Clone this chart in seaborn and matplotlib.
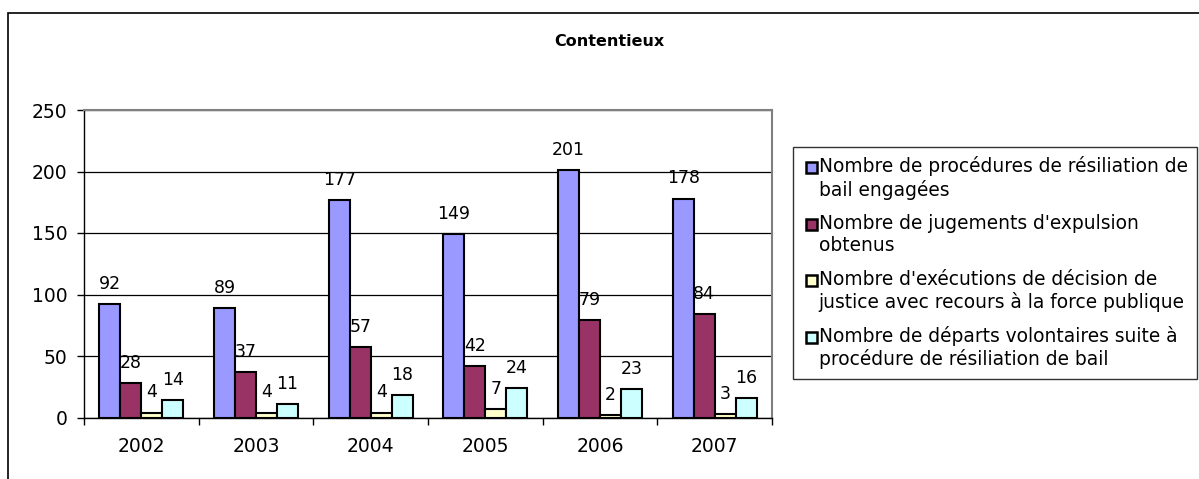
import pandas as pd
import seaborn as sns
import matplotlib.pyplot as plt
from matplotlib.patches import Rectangle, Patch
from matplotlib.legend_handler import HandlerPatch

# values
annees = ['2002', '2003', '2004', '2005', '2006', '2007']
procedures = [92, 89, 177, 149, 201, 178]
jugements = [28, 37, 57, 42, 79, 84]
executions = [4, 4, 4, 7, 2, 3]
departs = [14, 11, 18, 24, 23, 16]
series = ["Nombre de procédures de résiliation de\nbail engagées",
          "Nombre de jugements d'expulsion\nobtenus",
          "Nombre d'exécutions de décision de\njustice avec recours à la force publique",
          "Nombre de départs volontaires suite à\nprocédure de résiliation de bail"]
couleurs = ['#9999FF', '#993366', '#FFFFCC', '#CCFFFF']

rows = []
for s, vals in zip(series, [procedures, jugements, executions, departs]):
    for a, v in zip(annees, vals):
        rows.append({'annee': a, 'valeur': v, 'serie': s})
df = pd.DataFrame(rows)

sns.set_style('white')
plt.rcParams['font.family'] = ['DejaVu Sans']
plt.rcParams['text.color'] = 'black'
plt.rcParams['xtick.color'] = 'black'
plt.rcParams['ytick.color'] = 'black'

W, H = 1199, 479
fig = plt.figure(figsize=(W / 100, H / 100), dpi=100)
ax = fig.add_axes([84 / W, 1 - 417.5 / H, 688 / W, 307.5 / H])

sns.barplot(data=df, x='annee', y='valeur', hue='serie', palette=couleurs,
            saturation=1, width=0.73, edgecolor='black', linewidth=1.5,
            ax=ax, legend=False, errorbar=None, zorder=3)

for c in ax.containers:
    ax.bar_label(c, padding=8, fontsize=12.5, color='black')

ax.set_ylim(0, 250)
ax.set_xlim(-0.5, 5.5)
ax.set_yticks(range(0, 251, 50))
ax.yaxis.grid(True, color='black', lw=0.9, zorder=0)
ax.set_xlabel('')
ax.set_ylabel('')
ax.tick_params(axis='y', length=5, width=1, labelsize=13.5, pad=7, left=True)
ax.tick_params(axis='x', which='major', length=0, labelsize=13.5, pad=14)
ax.set_xticks([i - 0.5 for i in range(7)], minor=True)
ax.tick_params(axis='x', which='minor', length=5, width=1, bottom=True)
for side in ['top', 'right']:
    ax.spines[side].set_color('#808080')
    ax.spines[side].set_linewidth(1.5)
for side in ['left', 'bottom']:
    ax.spines[side].set_color('black')
    ax.spines[side].set_linewidth(1)

fig.text(609 / W, 1 - 42 / H, 'Contentieux', ha='center', va='center',
         fontsize=11.5, fontweight='bold')


# small square drawn next to the first line of each two-line label
def carre(legend, orig_handle, xdescent, ydescent, width, height, fontsize):
    cote = 0.58 * fontsize
    yc = -ydescent + height / 2 + 0.6 * fontsize
    return Rectangle((width - cote - xdescent, yc - cote / 2), cote, cote)


handles = [Patch(facecolor=c, edgecolor='black', lw=1.8) for c in couleurs]
leg = fig.legend(handles, series, loc='upper left',
                 bbox_to_anchor=(793 / W, 1 - 147 / H), fontsize=13.4,
                 frameon=True, fancybox=False, edgecolor='black',
                 handler_map={Patch: HandlerPatch(patch_func=carre)},
                 handlelength=0.8, handleheight=0.7, handletextpad=0.08,
                 labelspacing=0.78, borderpad=0.5, borderaxespad=0)
leg.get_frame().set_linewidth(1)

fig.patches.append(Rectangle((8 / W, -0.1), 1.2, (H - 13) / H + 0.1,
                             transform=fig.transFigure, fill=False,
                             edgecolor='black', lw=1.2))

fig.savefig('out.png', dpi=100)
